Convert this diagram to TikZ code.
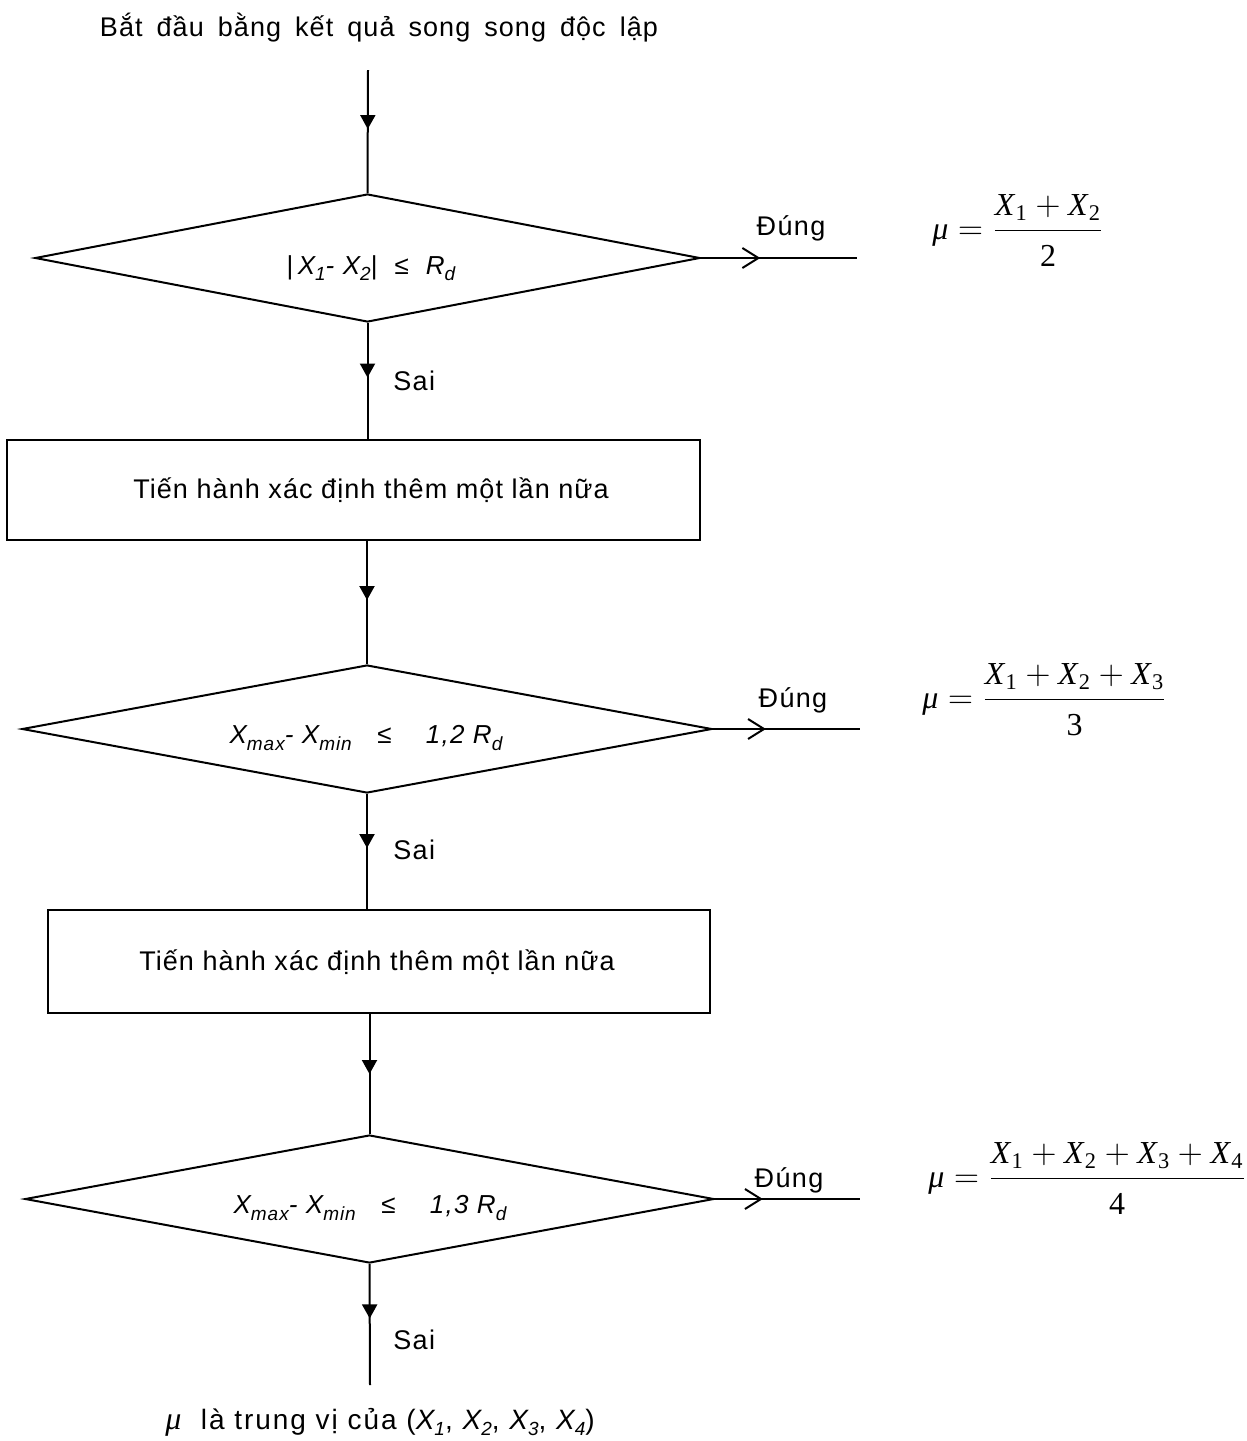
\documentclass[tikz,border=0pt]{standalone}
\usepackage{fontspec}
\usepackage{amsmath}
\setmainfont{Liberation Sans}[LetterSpace=5]
\newfontfamily\tms{Liberation Serif}
\newfontfamily\bodyfont{Liberation Sans}[LetterSpace=4]
\newfontfamily\wide{Liberation Sans}[LetterSpace=7]
\usetikzlibrary{shapes.geometric,arrows.meta,decorations.markings}

% variable with a subscript, Times style, for the formulas
\newcommand{\vX}[1]{\text{\tms\itshape X}_{\mkern1mu\text{\tms #1}}}
\newcommand{\mmu}{\text{\tms\itshape μ}}
% lowered, smaller index for the sans texts
\newcommand{\lo}[1]{\raisebox{-0.45ex}{\fontsize{9.5}{11}\selectfont #1}}
% italic sans variable with an italic index
\newcommand{\sX}[1]{\textit{X\lo{#1}}}
% wider gaps between words of the heading
\newcommand{\widewords}{\spaceskip 7pt\relax}

\tikzset{
  link/.style={line width=1pt},
  decision/.style={diamond, draw, line width=1pt, inner sep=0pt},
  process/.style={rectangle, draw, line width=1pt, inner sep=0pt},
  downtip/.style={postaction={decorate}, decoration={markings,
      mark=at position #1 with {\arrow{Triangle[width=7.5pt,length=7pt]}}}},
  righttip/.style={postaction={decorate}, decoration={markings,
      mark=at position #1 with {\arrow{Straight Barb[width=10pt,length=8pt,line width=1pt]}}}},
  lbl/.style={font=\fontsize{13.5}{16}\selectfont, inner sep=0pt},
  boxtext/.style={font=\bodyfont\fontsize{13.5}{16}\selectfont, inner sep=0pt},
  cond/.style={font=\fontsize{13}{15}\selectfont\itshape, inner sep=0pt},
  formula/.style={font=\fontsize{16}{19}\selectfont, inner sep=0pt, anchor=base west},
}

\begin{document}
\begin{tikzpicture}[x=0.5pt,y=-0.5pt]
  \useasboundingbox (0,0) rectangle (1247,1441);

  % start
  \node[boxtext] (start) at (379,28) {\widewords Bắt đầu bằng kết quả song song độc lập};
  \coordinate (s0) at (368,70);

  % first test
  \node[decision, minimum width=332.5pt, minimum height=64pt] (d1) at (367.5,258) {};
  \node[cond] (c1) at (371,268) {\upshape|\itshape\,X\lo{1}- X\lo{2}\upshape|\ \ ≤\ \ \itshape R\lo{d}};
  \coordinate (e1) at (857,258);
  \node[lbl] (y1) at (791,228) {Đúng};
  \node[formula] (f1) at (932,239) {$\mmu=\dfrac{\vX{1}+\vX{2}}{\rule{0pt}{15.5pt}\text{\tms 2}}$};

  % second measurement
  \node[process, minimum width=346.5pt, minimum height=50pt] (b1) at (353.5,490) {};
  \node[boxtext] (bt1) at (371,490) {Tiến hành xác định thêm một lần nữa};

  % second test
  \node[decision, minimum width=345pt, minimum height=64pt] (d2) at (367,729) {};
  \node[cond] (c2) at (366,738) {X\lo{max}- X\lo{min}\ \ \ \upshape≤\itshape\ \ \ \ 1,2 R\lo{d}};
  \coordinate (e2) at (860,729);
  \node[lbl] (y2) at (793,700) {Đúng};
  \node[formula] (f2) at (922,708) {$\mmu=\dfrac{\vX{1}+\vX{2}+\vX{3}}{\rule{0pt}{15.5pt}\text{\tms 3}}$};

  % third measurement
  \node[process, minimum width=331pt, minimum height=51.5pt] (b2) at (379,961.5) {};
  \node[boxtext] (bt2) at (377,962) {Tiến hành xác định thêm một lần nữa};

  % third test
  \node[decision, minimum width=344.5pt, minimum height=64pt] (d3) at (369.5,1199) {};
  \node[cond] (c3) at (370,1208) {X\lo{max}- X\lo{min}\ \ \ \upshape≤\itshape\ \ \ \ 1,3 R\lo{d}};
  \coordinate (e3) at (860,1199);
  \node[lbl] (y3) at (789,1180) {Đúng};
  \node[formula] (f3) at (928,1187) {$\mmu=\dfrac{\vX{1}+\vX{2}+\vX{3}+\vX{4}}{\rule{0pt}{15.5pt}\text{\tms 4}}$};

  % final result
  \coordinate (s1) at (370,1385);
  \node[font=\wide\fontsize{14}{16}\selectfont, inner sep=0pt] (res) at (380,1422) {{\tms\itshape\fontsize{16}{16}\selectfont μ}\ \ là trung vị của (\sX{1}, \sX{2}, \sX{3}, \sX{4})};

  % "false" labels
  \node[lbl, anchor=west] (n1) at (393,381) {Sai};
  \node[lbl, anchor=west] (n2) at (393,850) {Sai};
  \node[lbl, anchor=west] (n3) at (393,1340) {Sai};

  % vertical flow
  \draw[link, downtip=0.48] (s0) -- (d1.north);
  \draw[link, downtip=0.47] (d1.south) -- (d1.south |- b1.north);
  \draw[link, downtip=0.48] (d2.north |- b1.south) -- (d2.north);
  \draw[link, downtip=0.47] (d2.south) -- (d2.south |- b2.north);
  \draw[link, downtip=0.5] (d3.north |- b2.south) -- (d3.north);
  \draw[link, downtip=0.45] (d3.south) -- (s1);

  % "true" branches
  \draw[link, righttip=0.38] (d1.east) -- (e1);
  \draw[link, righttip=0.36] (d2.east) -- (e2);
  \draw[link, righttip=0.33] (d3.east) -- (e3);
\end{tikzpicture}
\end{document}
